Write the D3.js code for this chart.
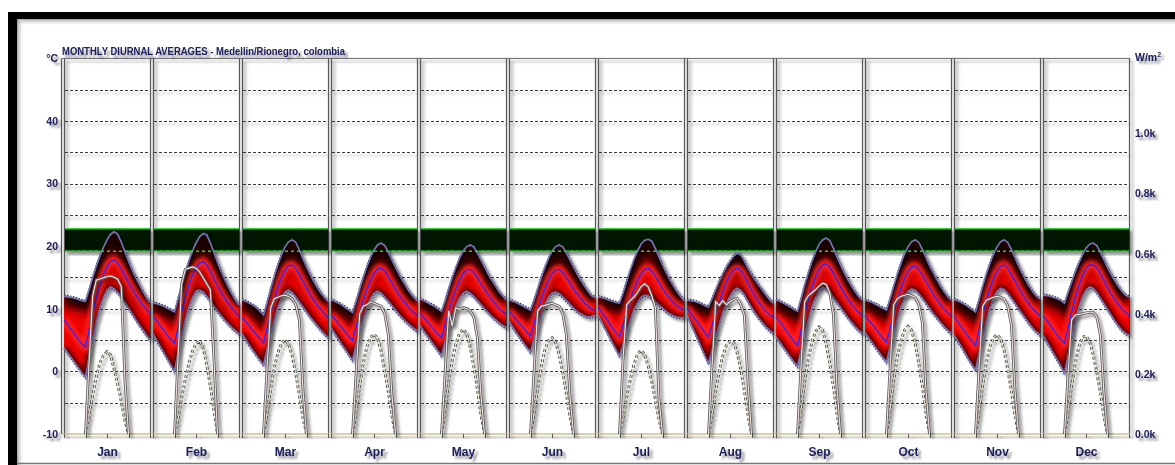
<!DOCTYPE html>
<html>
<head>
<meta charset="utf-8">
<script src="https://cdn.jsdelivr.net/npm/d3@7"></script>
<style>
  body { margin: 0; background: #ffffff; }
  svg { display: block; }
  text { font-family: "Liberation Sans", Arial, sans-serif; font-weight: bold; fill: #1c1c58; }
</style>
</head>
<body>
<svg id="chart" width="1175" height="465"></svg>
<script>
// ---- data -------------------------------------------------------------
const months = ["Jan","Feb","Mar","Apr","May","Jun","Jul","Aug","Sep","Oct","Nov","Dec"];
const hourSteps = [0,1,2,3,4,5,6,7,8,9,10,11,12,13,14,15,16,17,18,19,20,21,22,23,24];
const tempTicks = [-10, 0, 10, 20, 30, 40];
const solarTicks = [0, 200, 400, 600, 800, 1000];
const comfortBand = [19.2, 22.8];
const titleText = "MONTHLY DIURNAL AVERAGES - Medellin/Rionegro, colombia";

// hourly maximum temperature (°C), hours 0..24
const tempMax = [
  [12.0,11.9,11.8,11.7,11.5,11.3,11.2,13.0,15.0,16.8,18.4,19.8,21.0,21.9,22.3,21.9,20.6,19.1,17.6,16.2,15.0,13.9,12.8,11.8,11.0],
  [11.0,10.8,10.6,10.4,10.1,9.8,9.5,11.6,13.8,15.8,17.6,19.2,20.5,21.5,22.0,21.8,20.5,19.0,17.4,16.0,14.7,13.5,12.4,11.4,10.6],
  [11.4,11.2,10.9,10.6,10.2,9.6,9.0,11.0,13.2,15.2,17.0,18.6,19.9,20.7,21.0,20.6,19.4,18.0,16.7,15.5,14.4,13.4,12.5,11.8,11.2],
  [11.5,11.2,10.9,10.6,10.2,9.8,9.4,11.2,13.2,15.0,16.7,18.2,19.4,20.2,20.5,20.1,19.0,17.8,16.6,15.5,14.5,13.5,12.6,11.9,11.3],
  [11.6,11.3,11.0,10.7,10.4,10.0,9.6,11.3,13.2,15.0,16.6,18.0,19.2,19.9,20.2,19.9,18.9,17.8,16.7,15.6,14.6,13.7,12.8,12.1,11.5],
  [11.5,11.2,11.0,10.7,10.4,10.1,9.8,11.4,13.2,15.0,16.6,18.0,19.2,19.9,20.2,19.9,18.9,17.8,16.7,15.6,14.6,13.7,12.8,12.1,11.8],
  [11.9,11.8,11.6,11.4,11.2,11.0,10.9,12.5,14.4,16.2,17.8,19.2,20.3,20.9,21.1,20.8,19.6,18.3,17.0,15.8,14.7,13.7,12.8,12.0,11.3],
  [11.4,11.3,11.2,11.0,10.8,10.5,10.3,11.6,13.0,14.4,15.6,16.7,17.6,18.4,18.9,18.6,17.6,16.5,15.5,14.6,13.8,13.0,12.2,11.5,10.9],
  [11.4,11.2,10.9,10.6,10.3,9.9,9.6,11.6,13.8,15.7,17.5,19.0,20.3,21.0,21.3,20.9,19.7,18.3,17.0,15.8,14.7,13.7,12.8,12.0,11.4],
  [11.4,11.2,11.0,10.7,10.4,10.1,9.8,11.6,13.6,15.5,17.2,18.7,19.9,20.7,21.0,20.6,19.5,18.2,16.9,15.8,14.7,13.7,12.8,12.0,11.4],
  [11.5,11.3,11.0,10.7,10.3,9.9,9.5,11.5,13.6,15.5,17.2,18.7,19.9,20.7,21.0,20.6,19.5,18.2,16.9,15.7,14.6,13.6,12.7,12.0,11.6],
  [12.2,12.1,12.0,11.8,11.6,11.3,10.9,12.6,14.3,15.9,17.3,18.6,19.7,20.3,20.5,20.1,19.0,17.8,16.6,15.5,14.5,13.6,12.8,12.2,11.9]
];

// hourly mean temperature (°C)
const tempMean = [
  [8.2,7.5,6.7,5.9,5.1,4.4,3.9,6.6,9.4,11.8,13.8,15.5,16.8,17.6,17.8,17.3,16.4,15.3,14.2,13.2,12.3,11.4,10.6,9.9,9.3],
  [8.8,8.1,7.3,6.6,5.8,5.1,4.5,7.0,9.6,11.9,13.8,15.4,16.6,17.3,17.5,17.0,16.0,14.8,13.6,12.6,11.7,10.9,10.1,9.4,8.8],
  [8.6,8.0,7.3,6.6,5.9,5.2,4.6,6.9,9.3,11.5,13.4,15.0,16.2,16.9,17.0,16.5,15.5,14.4,13.3,12.3,11.4,10.6,9.9,9.2,8.6],
  [9.0,8.4,7.7,7.0,6.3,5.6,5.0,7.2,9.4,11.4,13.1,14.6,15.7,16.4,16.5,16.0,15.1,14.1,13.1,12.2,11.4,10.7,10.0,9.4,8.9],
  [9.3,8.7,8.0,7.3,6.6,6.0,5.4,7.5,9.6,11.5,13.1,14.5,15.6,16.2,16.3,15.8,15.0,14.0,13.1,12.3,11.5,10.8,10.1,9.6,9.1],
  [9.6,9.0,8.3,7.6,7.0,6.3,5.7,7.7,9.7,11.6,13.2,14.6,15.6,16.2,16.3,15.8,15.0,14.1,13.2,12.4,11.7,11.0,10.4,10.0,9.8],
  [10.3,9.5,8.7,7.9,7.0,6.2,5.5,7.5,9.6,11.5,13.1,14.5,15.6,16.3,16.5,16.1,15.2,14.2,13.2,12.4,11.7,11.0,10.5,10.1,9.8],
  [10.1,9.3,8.5,7.8,7.0,6.2,5.5,7.4,9.3,11.1,12.8,14.3,15.5,16.2,16.5,16.1,15.2,14.1,13.0,12.0,11.1,10.3,9.6,9.1,8.7],
  [8.7,8.0,7.2,6.4,5.6,4.8,4.1,6.6,9.2,11.5,13.4,15.0,16.3,17.0,17.2,16.7,15.7,14.6,13.5,12.5,11.6,10.8,10.1,9.5,9.0],
  [8.9,8.2,7.5,6.8,6.0,5.3,4.7,6.9,9.2,11.4,13.2,14.8,16.0,16.7,16.8,16.3,15.4,14.4,13.4,12.4,11.5,10.7,10.0,9.4,8.9],
  [8.8,8.0,7.2,6.4,5.6,4.8,4.1,6.6,9.1,11.3,13.2,14.8,16.0,16.8,17.0,16.5,15.5,14.5,13.4,12.4,11.5,10.7,10.0,9.4,8.9],
  [8.9,8.2,7.4,6.6,5.8,5.1,4.5,6.9,9.5,11.8,13.7,15.3,16.5,17.0,17.0,16.6,15.6,14.5,13.4,12.4,11.5,10.7,10.0,9.4,9.0]
];

// hourly minimum temperature (°C)
const tempMin = [
  [3.8,3.0,2.2,1.4,0.6,-0.2,-0.9,2.4,5.4,8.0,10.1,11.8,13.0,13.5,13.2,12.6,11.8,11.0,10.1,9.2,8.3,7.4,6.6,5.8,5.0],
  [6.0,5.0,4.0,3.0,2.0,1.0,0.0,3.0,5.8,8.2,10.2,11.8,12.8,13.0,12.7,12.0,11.2,10.4,9.6,8.9,8.2,7.6,7.0,6.5,6.0],
  [6.0,5.1,4.2,3.4,2.6,1.8,1.0,3.6,6.1,8.3,10.2,11.7,12.7,13.0,12.6,11.9,11.1,10.3,9.5,8.7,8.0,7.3,6.6,6.0,5.4],
  [7.0,6.1,5.2,4.3,3.5,2.6,1.8,4.2,6.5,8.5,10.2,11.6,12.5,12.8,12.5,11.9,11.2,10.5,9.8,9.1,8.5,7.9,7.4,6.9,6.5],
  [7.4,6.5,5.7,4.9,4.1,3.3,2.5,4.7,6.9,8.8,10.4,11.7,12.5,12.8,12.5,12.0,11.3,10.7,10.0,9.4,8.8,8.3,7.8,7.4,7.0],
  [8.0,7.1,6.2,5.4,4.6,3.8,3.1,5.2,7.3,9.1,10.6,11.8,12.5,12.7,12.4,11.9,11.3,10.7,10.1,9.6,9.2,8.9,8.7,8.8,9.0],
  [9.0,7.9,6.8,5.7,4.6,3.5,2.4,4.4,6.4,8.2,9.8,11.0,11.9,12.2,12.1,11.7,11.2,10.6,10.1,9.6,9.2,8.9,8.7,8.6,8.6],
  [9.0,7.7,6.4,5.1,3.8,2.5,1.3,3.4,5.6,7.6,9.4,10.9,12.0,12.9,13.3,13.0,12.2,11.2,10.2,9.3,8.5,7.8,7.1,6.6,6.1],
  [5.5,4.7,3.9,3.1,2.3,1.5,0.8,3.4,6.0,8.3,10.2,11.8,12.9,13.4,13.2,12.6,11.8,11.0,10.2,9.4,8.6,7.9,7.2,6.6,6.1],
  [6.2,5.4,4.6,3.8,3.0,2.2,1.5,3.9,6.3,8.5,10.3,11.8,12.8,13.2,13.0,12.4,11.7,10.9,10.1,9.3,8.6,7.9,7.2,6.6,6.1],
  [5.8,4.9,4.0,3.0,2.0,1.1,0.2,2.9,5.6,8.0,10.1,11.7,12.8,13.3,13.1,12.5,11.7,10.9,10.0,9.2,8.4,7.6,6.9,6.3,5.8],
  [5.8,4.8,3.8,2.8,1.8,0.8,-0.3,2.6,5.5,8.1,10.2,11.9,13.0,13.5,13.3,12.6,11.7,10.8,9.9,9.0,8.1,7.3,6.6,6.1,5.8]
];

// hourly direct solar radiation (W/m²)
const solarDirect = [
  [0,0,0,0,0,0,0,240,460,512,516,520,524,526,522,515,490,180,0,0,0,0,0,0,0],
  [0,0,0,0,0,0,0,260,500,548,552,556,552,540,520,500,480,250,0,0,0,0,0,0,0],
  [0,0,0,0,0,0,0,220,420,450,455,460,462,458,450,430,380,150,0,0,0,0,0,0,0],
  [0,0,0,0,0,0,0,200,400,425,430,440,435,430,425,400,330,130,0,0,0,0,0,0,0],
  [0,0,0,0,0,0,0,200,410,360,420,415,420,418,410,390,320,130,0,0,0,0,0,0,0],
  [0,0,0,0,0,0,0,210,410,425,428,432,435,430,425,400,330,130,0,0,0,0,0,0,0],
  [0,0,0,0,0,0,0,250,430,445,455,470,490,500,490,460,420,120,0,0,0,0,0,0,0],
  [0,0,0,0,0,0,0,230,440,428,444,430,440,448,452,430,395,180,0,0,0,0,0,0,0],
  [0,0,0,0,0,0,0,230,440,460,470,480,492,502,498,470,400,160,0,0,0,0,0,0,0],
  [0,0,0,0,0,0,0,220,430,450,458,462,465,460,455,430,370,150,0,0,0,0,0,0,0],
  [0,0,0,0,0,0,0,220,425,445,450,455,458,455,450,425,365,150,0,0,0,0,0,0,0],
  [0,0,0,0,0,0,0,200,380,396,398,400,403,405,406,390,330,140,0,0,0,0,0,0,0]
];

// hourly diffuse solar radiation (W/m²)
const solarDiffuse = [
  [0,0,0,0,0,0,0,60,130,190,236,262,274,262,215,165,108,45,0,0,0,0,0,0,0],
  [0,0,0,0,0,0,0,50,120,180,235,275,300,310,285,230,160,80,0,0,0,0,0,0,0],
  [0,0,0,0,0,0,0,70,150,220,270,300,314,300,260,200,130,55,0,0,0,0,0,0,0],
  [0,0,0,0,0,0,0,75,160,235,290,320,332,318,275,210,140,60,0,0,0,0,0,0,0],
  [0,0,0,0,0,0,0,80,170,245,300,335,348,335,290,225,150,65,0,0,0,0,0,0,0],
  [0,0,0,0,0,0,0,70,150,225,280,310,320,305,265,205,135,60,0,0,0,0,0,0,0],
  [0,0,0,0,0,0,0,55,120,180,230,265,278,265,225,175,115,50,0,0,0,0,0,0,0],
  [0,0,0,0,0,0,0,60,140,210,260,295,308,305,270,215,145,65,0,0,0,0,0,0,0],
  [0,0,0,0,0,0,0,80,170,250,305,340,356,345,300,235,160,70,0,0,0,0,0,0,0],
  [0,0,0,0,0,0,0,80,175,255,310,345,358,345,300,235,160,70,0,0,0,0,0,0,0],
  [0,0,0,0,0,0,0,75,160,235,290,320,330,318,278,215,145,62,0,0,0,0,0,0,0],
  [0,0,0,0,0,0,0,75,160,235,290,322,326,308,265,205,140,60,0,0,0,0,0,0,0]
];

// ---- layout -----------------------------------------------------------
const W = 1175, H = 465;
const plotL = 62, plotR = 1130, plotTop = 58.4, plotBot = 434;
const svg = d3.select("#chart");
const defs = svg.append("defs");

// soft drop shadow used by every drawn element
const shadow = defs.append("filter").attr("id", "shadow")
  .attr("x", "-10%").attr("y", "-10%").attr("width", "130%").attr("height", "130%");
shadow.append("feGaussianBlur").attr("in", "SourceAlpha").attr("stdDeviation", 1.6);
shadow.append("feOffset").attr("dx", 3).attr("dy", 3).attr("result", "off");
shadow.append("feComponentTransfer").append("feFuncA").attr("type", "linear").attr("slope", 0.42);
const sm = shadow.append("feMerge");
sm.append("feMergeNode");
sm.append("feMergeNode").attr("in", "SourceGraphic");

const tshadow = defs.append("filter").attr("id", "tshadow")
  .attr("x", "-20%").attr("y", "-30%").attr("width", "150%").attr("height", "180%");
tshadow.append("feGaussianBlur").attr("in", "SourceAlpha").attr("stdDeviation", 1.3);
tshadow.append("feOffset").attr("dx", 2.5).attr("dy", 2.5).attr("result", "off");
tshadow.append("feComponentTransfer").append("feFuncA").attr("type", "linear").attr("slope", 0.45);
const tm = tshadow.append("feMerge");
tm.append("feMergeNode");
tm.append("feMergeNode").attr("in", "SourceGraphic");

defs.append("filter").attr("id", "blurWide").attr("x", "-20%").attr("y", "-50%").attr("width", "140%").attr("height", "200%")
  .append("feGaussianBlur").attr("stdDeviation", 4);
defs.append("filter").attr("id", "blurNarrow").attr("x", "-20%").attr("y", "-50%").attr("width", "140%").attr("height", "200%")
  .append("feGaussianBlur").attr("stdDeviation", 2);

// window frame: dark border along top and left, shading inside it
const topShade = defs.append("linearGradient").attr("id", "topShade").attr("x1", 0).attr("y1", 0).attr("x2", 0).attr("y2", 1);
topShade.append("stop").attr("offset", 0).attr("stop-color", "#888").attr("stop-opacity", 0.8);
topShade.append("stop").attr("offset", 1).attr("stop-color", "#fff").attr("stop-opacity", 0);
const leftShade = defs.append("linearGradient").attr("id", "leftShade").attr("x1", 0).attr("y1", 0).attr("x2", 1).attr("y2", 0);
leftShade.append("stop").attr("offset", 0).attr("stop-color", "#888").attr("stop-opacity", 0.8);
leftShade.append("stop").attr("offset", 1).attr("stop-color", "#fff").attr("stop-opacity", 0);

svg.append("rect").attr("x", 17).attr("y", 19).attr("width", W - 17).attr("height", 7).attr("fill", "url(#topShade)");
svg.append("rect").attr("x", 17).attr("y", 19).attr("width", 7).attr("height", H - 19).attr("fill", "url(#leftShade)");
svg.append("rect").attr("x", 8).attr("y", 12).attr("width", W - 8).attr("height", 7).attr("fill", "#000");
svg.append("rect").attr("x", 8).attr("y", 12).attr("width", 9).attr("height", H - 12).attr("fill", "#000");
svg.append("line").attr("x1", 17).attr("x2", W).attr("y1", 463.5).attr("y2", 463.5).attr("stroke", "#777").attr("stroke-width", 1.5);

// ---- scales -----------------------------------------------------------
const yT = d3.scaleLinear().domain([-10, 50]).range([plotBot, plotTop]);
const yS = d3.scaleLinear().domain([0, 1250]).range([plotBot, plotTop]);
const panelW = (plotR - plotL) / months.length;
const xPanel = d3.scaleBand().domain(months).range([plotL, plotR]).padding(0);

// ---- grid and panel frames --------------------------------------------
const grid = svg.append("g").attr("filter", "url(#shadow)");
const gridLevels = d3.range(-5, 50, 5);
months.forEach((m) => {
  const x0 = xPanel(m);
  grid.selectAll(null).data(gridLevels).enter().append("line")
    .attr("x1", x0 + 3).attr("x2", x0 + panelW - 1)
    .attr("y1", d => Math.round(yT(d)) + 0.5).attr("y2", d => Math.round(yT(d)) + 0.5)
    .attr("stroke", "#3a3a3a").attr("stroke-width", 1).attr("stroke-dasharray", "3,2");
});
// top border
grid.append("line").attr("x1", plotL).attr("x2", plotR).attr("y1", plotTop).attr("y2", plotTop)
  .attr("stroke", "#666").attr("stroke-width", 1);
// double separators between months
d3.range(months.length + 1).forEach(i => {
  const bx = plotL + i * panelW;
  [-0.5, 2.5].forEach(off => {
    if (i === months.length && off > 0) return;
    grid.append("line").attr("x1", bx + off).attr("x2", bx + off)
      .attr("y1", plotTop).attr("y2", plotBot)
      .attr("stroke", "#555").attr("stroke-width", 1.2);
  });
});

// ---- comfort band -----------------------------------------------------
const comfort = svg.append("g").attr("filter", "url(#shadow)");
months.forEach((m) => {
  const x0 = xPanel(m);
  comfort.append("rect")
    .attr("x", x0 + 3).attr("width", panelW - 4)
    .attr("y", yT(comfortBand[1])).attr("height", yT(comfortBand[0]) - yT(comfortBand[1]))
    .attr("fill", "#001800");
  comfortBand.forEach(v => comfort.append("line")
    .attr("x1", x0 + 3).attr("x2", x0 + panelW - 1)
    .attr("y1", yT(v)).attr("y2", yT(v))
    .attr("stroke", "#2ed02e").attr("stroke-width", 1.5));
});

// ---- baseline and ticks -----------------------------------------------
const base = svg.append("g").attr("filter", "url(#shadow)");
base.append("line").attr("x1", plotL).attr("x2", plotR).attr("y1", plotBot).attr("y2", plotBot)
  .attr("stroke", "#c9c28c").attr("stroke-width", 1.6);
months.forEach((m) => {
  const x0 = xPanel(m);
  const xh = d3.scaleLinear().domain([0, 24]).range([x0 + 2, x0 + panelW - 1]);
  base.selectAll(null).data([0, 6, 12, 18, 24]).enter().append("line")
    .attr("x1", d => Math.round(xh(d)) + 0.5).attr("x2", d => Math.round(xh(d)) + 0.5)
    .attr("y1", plotBot).attr("y2", plotBot + 4)
    .attr("stroke", "#555").attr("stroke-width", 1);
});

// ---- temperature bands and solar lines per month ---------------------
const data = svg.append("g");
months.forEach((m, i) => {
  const x0 = xPanel(m);
  const xh = d3.scaleLinear().domain([0, 24]).range([x0 + 2, x0 + panelW - 1]);
  const rows = hourSteps.map((h, k) => ({
    h, max: tempMax[i][k], mean: tempMean[i][k], min: tempMin[i][k],
    dir: solarDirect[i][k], dif: solarDiffuse[i][k]
  }));
  const area = d3.area().x(d => xh(d.h)).y0(d => yT(d.min)).y1(d => yT(d.max));
  const lineOf = key => d3.line().x(d => xh(d.h)).y(d => yT(d[key]));

  const clipId = "band" + i;
  defs.append("clipPath").attr("id", clipId).append("path").attr("d", area(rows));

  const band = data.append("g").attr("filter", "url(#shadow)");
  band.append("path").attr("d", area(rows)).attr("fill", "#ec0000");
  const shade = band.append("g").attr("clip-path", `url(#${clipId})`);
  shade.append("path").attr("d", lineOf("max")(rows)).attr("fill", "none")
    .attr("stroke", "#1c0000").attr("stroke-width", 20).attr("filter", "url(#blurWide)");
  shade.append("path").attr("d", lineOf("min")(rows)).attr("fill", "none")
    .attr("stroke", "#5a0000").attr("stroke-width", 7).attr("filter", "url(#blurNarrow)");
  shade.append("path").attr("d", lineOf("mean")(rows)).attr("fill", "none")
    .attr("stroke", "#ff1a1a").attr("stroke-width", 8).attr("filter", "url(#blurNarrow)");

  // outlines of the daily range
  ["max", "min"].forEach(k => {
    band.append("path").attr("d", lineOf(k)(rows)).attr("fill", "none")
      .attr("transform", `translate(0,${k === "max" ? -1.2 : 1.2})`)
      .attr("stroke", "#2a2a3c").attr("stroke-width", 1.2).attr("stroke-dasharray", "1.5,1.5");
    band.append("path").attr("d", lineOf(k)(rows)).attr("fill", "none")
      .attr("stroke", "#7474b6").attr("stroke-width", 1.6);
  });
  band.append("path").attr("d", lineOf("mean")(rows)).attr("fill", "none")
    .attr("stroke", "#2626ff").attr("stroke-width", 1.3);

  // comfort lower limit shown through the band
  data.append("line").attr("x1", x0 + 3).attr("x2", x0 + panelW - 1)
    .attr("y1", yT(comfortBand[0])).attr("y2", yT(comfortBand[0]))
    .attr("stroke", "#2ed02e").attr("stroke-width", 1.5).attr("stroke-dasharray", "3,3");

  // solar radiation (daylight part of each curve)
  const solar = data.append("g").attr("filter", "url(#shadow)");
  const visible = key => (d, k) => d[key] > 0 || (k > 0 && rows[k - 1][key] > 0) || (k < rows.length - 1 && rows[k + 1][key] > 0);
  const sLine = key => d3.line().defined(visible(key)).x(d => xh(d.h)).y(d => yS(d[key]));

  solar.append("path").attr("d", sLine("dif")(rows)).attr("fill", "none")
    .attr("stroke", "#454545").attr("stroke-width", 2.8).attr("stroke-dasharray", "3,2.2");
  solar.append("path").attr("d", sLine("dif")(rows)).attr("fill", "none")
    .attr("stroke", "#f2eec8").attr("stroke-width", 1.1).attr("stroke-dasharray", "3,2.2");

  solar.append("path").attr("d", sLine("dir")(rows)).attr("fill", "none")
    .attr("stroke", "#5a5a5a").attr("stroke-width", 2.8);
  solar.append("path").attr("d", sLine("dir")(rows)).attr("fill", "none")
    .attr("stroke", "#f7e2e2").attr("stroke-width", 1.1);
});

// ---- axes and labels -------------------------------------------------
const labels = svg.append("g").attr("filter", "url(#tshadow)");

const leftAxis = labels.append("g").attr("transform", `translate(${plotL - 3},0)`)
  .call(d3.axisLeft(yT).tickValues(tempTicks).tickSize(0).tickPadding(1).tickFormat(d => String(d)));
const rightAxis = labels.append("g").attr("transform", `translate(${plotR + 3},0)`)
  .call(d3.axisRight(yS).tickValues(solarTicks).tickSize(0).tickPadding(2).tickFormat(d => (d / 1000).toFixed(1) + "k"));
[leftAxis, rightAxis].forEach(a => {
  a.select(".domain").remove();
  a.selectAll("text").attr("font-size", 10.5).style("font-family", "\"Liberation Sans\", Arial, sans-serif")
    .style("font-weight", "bold").attr("fill", "#1c1c58");
});

labels.append("text").attr("x", plotL - 4).attr("y", plotTop + 4).attr("text-anchor", "end")
  .attr("font-size", 10.5).text("°C");
labels.append("text").attr("x", plotR + 5).attr("y", plotTop + 3).attr("font-size", 10.5)
  .text("W/m").append("tspan").attr("font-size", 7).attr("dy", -4).text("2");

labels.append("text").attr("x", plotL).attr("y", 55).attr("font-size", 11.5)
  .attr("textLength", 283).attr("lengthAdjust", "spacingAndGlyphs").text(titleText);

labels.selectAll(null).data(months).enter().append("text")
  .attr("x", m => xPanel(m) + panelW / 2 + 1).attr("y", 456)
  .attr("text-anchor", "middle").attr("font-size", 12).text(m => m);
</script>
</body>
</html>
